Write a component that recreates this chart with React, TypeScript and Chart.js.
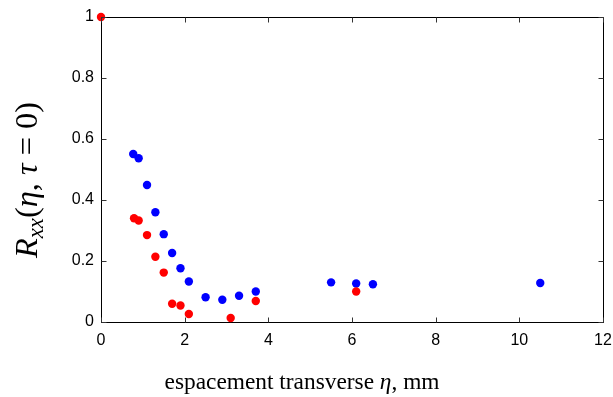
import React, { useEffect, useRef } from "react";
import { Chart, registerables } from "chart.js";
Chart.register(...registerables);

const blueX = [0.77, 0.9, 1.1, 1.3, 1.5, 1.7, 1.9, 2.1, 2.5, 2.9, 3.3, 3.7, 5.5, 6.1, 6.5, 10.5];
const blueY = [0.551, 0.537, 0.449, 0.36, 0.288, 0.226, 0.176, 0.133, 0.081, 0.073, 0.086, 0.1, 0.13, 0.126, 0.124, 0.128];
const redX = [0, 0.79, 0.9, 1.1, 1.3, 1.5, 1.7, 1.9, 2.1, 3.1, 3.7, 6.1];
const redY = [1, 0.34, 0.333, 0.285, 0.214, 0.162, 0.06, 0.054, 0.026, 0.013, 0.069, 0.1];
const xTickValues = [0, 2, 4, 6, 8, 10, 12];
const yTickValues = [0, 0.2, 0.4, 0.6, 0.8, 1];
const xTitleRuns = [
  { t: "espacement transverse ", italic: false },
  { t: "η", italic: true },
  { t: ", mm", italic: false },
];

const SERIF = '"Liberation Serif", "DejaVu Serif", serif';

const framePlugin = {
  id: "frame",
  afterDraw(chart: any) {
    const ctx = chart.ctx as CanvasRenderingContext2D;
    const { left, right, top, bottom } = chart.chartArea;
    const xs = chart.scales.x;
    const ys = chart.scales.y;
    ctx.save();
    ctx.strokeStyle = "#000";
    ctx.lineWidth = 1;
    const L = Math.round(left) + 0.5;
    const R = Math.round(right) + 0.5;
    const T = Math.round(top) + 0.5;
    const B = Math.round(bottom) + 0.5;
    ctx.beginPath();
    ctx.moveTo(L, T);
    ctx.lineTo(R, T);
    ctx.lineTo(R, B);
    ctx.stroke();
    const tl = 5;
    ctx.strokeStyle = "#333";
    ctx.beginPath();
    xTickValues.forEach((v) => {
      const px = Math.round(xs.getPixelForValue(v)) + 0.5;
      ctx.moveTo(px, B);
      ctx.lineTo(px, B - tl);
      ctx.moveTo(px, T);
      ctx.lineTo(px, T + tl);
    });
    yTickValues.forEach((v) => {
      const py = Math.round(ys.getPixelForValue(v)) + 0.5;
      ctx.moveTo(L, py);
      ctx.lineTo(L + tl, py);
      ctx.moveTo(R, py);
      ctx.lineTo(R - tl, py);
    });
    ctx.stroke();

    // x title
    ctx.fillStyle = "#000";
    ctx.textBaseline = "alphabetic";
    ctx.textAlign = "left";
    const measure = (s: number) => {
      let w = 0;
      xTitleRuns.forEach((r) => {
        ctx.font = `${r.italic ? "italic " : ""}${s}px ${SERIF}`;
        w += ctx.measureText(r.t).width;
      });
      return w;
    };
    const size = (20 * 275) / measure(20);
    const tw = measure(size);
    let x = 302 - tw / 2;
    xTitleRuns.forEach((r) => {
      ctx.font = `${r.italic ? "italic " : ""}${size}px ${SERIF}`;
      ctx.fillText(r.t, x, 389);
      x += ctx.measureText(r.t).width;
    });

    // y title (rotated)
    ctx.translate(37, 180);
    ctx.rotate(-Math.PI / 2);
    const mk = (big: number) => {
      const sub = big * 0.7;
      return [
        { t: "R", font: `italic ${big}px ${SERIF}`, dy: 0 },
        { t: "xx", font: `italic ${sub}px ${SERIF}`, dy: big * 0.2 },
        { t: "(", font: `${big}px ${SERIF}`, dy: 0 },
        { t: "η", font: `italic ${big}px ${SERIF}`, dy: 0 },
        { t: ", ", font: `${big}px ${SERIF}`, dy: 0 },
        { t: "τ", font: `italic ${big}px ${SERIF}`, dy: 0 },
        { t: " = ", font: `${big}px ${SERIF}`, dy: 0 },
        { t: "0)", font: `${big}px ${SERIF}`, dy: 0 },
      ];
    };
    const tot = (parts: any[]) => {
      let t = 0;
      parts.forEach((p) => {
        ctx.font = p.font;
        t += ctx.measureText(p.t).width;
      });
      return t;
    };
    const big = (20 * 156) / tot(mk(20));
    const parts = mk(big);
    const total = tot(parts);
    let yx = -total / 2;
    parts.forEach((p) => {
      ctx.font = p.font;
      ctx.fillText(p.t, yx, p.dy);
      yx += ctx.measureText(p.t).width;
    });
    ctx.restore();
  },
};

export default function App() {
  const ref = useRef<HTMLCanvasElement | null>(null);
  useEffect(() => {
    document.body.style.margin = "0";
    const canvas = ref.current!;
    const chart = new Chart(canvas, {
      type: "scatter",
      data: {
        datasets: [
          {
            label: "red",
            data: redX.map((x, i) => ({ x, y: redY[i] })),
            backgroundColor: "rgb(255,0,0)",
            borderWidth: 0,
            pointRadius: 4.2,
            pointHoverRadius: 4.2,
            clip: false as any,
          },
          {
            label: "blue",
            data: blueX.map((x, i) => ({ x, y: blueY[i] })),
            backgroundColor: "rgb(0,0,255)",
            borderWidth: 0,
            pointRadius: 4.2,
            pointHoverRadius: 4.2,
            clip: false as any,
          },
        ],
      },
      options: {
        animation: false,
        responsive: false,
        events: [],
        layout: { padding: { top: 17, right: 10, left: 0, bottom: 0 } },
        plugins: { legend: { display: false }, tooltip: { enabled: false } },
        scales: {
          x: {
            type: "linear",
            min: 0,
            max: 12,
            afterBuildTicks: (s: any) => {
              s.ticks = xTickValues.map((v) => ({ value: v }));
            },
            afterFit: (s: any) => {
              s.height = 75;
              s.paddingLeft = 0;
              s.paddingRight = 0;
            },
            grid: { display: false, drawTicks: false },
            border: { display: true, color: "#000", width: 1 },
            ticks: {
              color: "#000",
              padding: 9,
              font: { family: '"Liberation Sans", Arial, sans-serif', size: 16 },
              maxRotation: 0,
              callback: (v: any) => String(v),
            },
          },
          y: {
            type: "linear",
            min: 0,
            max: 1,
            afterBuildTicks: (s: any) => {
              s.ticks = yTickValues.map((v) => ({ value: v }));
            },
            afterFit: (s: any) => {
              s.width = 101;
              s.paddingTop = 0;
              s.paddingBottom = 0;
            },
            grid: { display: false, drawTicks: false },
            border: { display: true, color: "#000", width: 1 },
            ticks: {
              color: "#000",
              padding: 7,
              font: { family: '"Liberation Sans", Arial, sans-serif', size: 16 },
              callback: (v: any) => String(Math.round(v * 10) / 10),
            },
          },
        },
      },
      plugins: [framePlugin],
    });
    return () => chart.destroy();
  }, []);
  return <canvas ref={ref} width={613} height={397} style={{ display: "block" }} />;
}
